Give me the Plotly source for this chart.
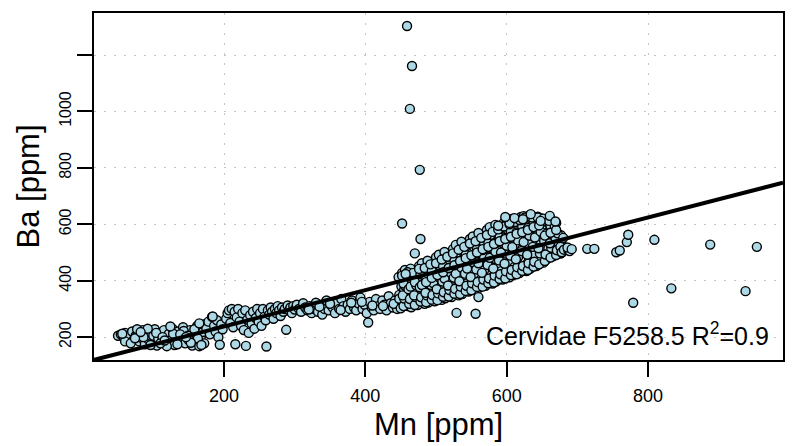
import plotly.graph_objects as go

# ---------------- data ----------------
mn_low = [50, 54, 58, 60, 63, 66, 70, 72, 75, 78, 80, 83, 85, 88, 90, 93, 95, 98, 100, 102,
          105, 107, 110, 112, 115, 118, 120, 122, 125, 127, 130, 132, 135, 137, 140, 142, 145, 147, 150, 152,
          155, 157, 160, 162, 165, 167, 170, 172, 60, 68, 77, 86, 96, 104, 113, 119, 128, 134,
          143, 149, 158, 163, 168, 110, 92, 124, 138, 153, 171, 56, 74, 82, 116, 146]
ba_low = [205, 210, 200, 215, 195, 208, 220, 190, 205, 212, 185, 198, 225, 175, 210, 192, 218, 180, 205, 228,
          170, 195, 215, 185, 225, 175, 200, 212, 190, 230, 172, 205, 220, 185, 198, 235, 178, 210, 190, 225,
          170, 205, 185, 240, 168, 200, 218, 178, 185, 178, 228, 200, 172, 215, 200, 168, 212, 175,
          222, 205, 228, 195, 172, 178, 230, 238, 210, 180, 245, 212, 196, 218, 188, 200]

mn_mid = [175, 178, 180, 183, 186, 188, 190, 192, 196, 198, 203, 205, 207, 209, 211, 213, 215, 218, 220, 222,
          224, 226, 228, 230, 233, 235, 237, 239, 241, 243, 245, 247, 249, 251, 253, 255, 257, 259, 262, 264,
          266, 268, 270, 272, 274, 276, 278, 280, 282, 284, 286, 290, 292, 294, 296, 298, 300]
ba_mid = [230, 255, 210, 272, 240, 220, 260, 200, 245, 228, 265, 285, 295, 250, 300, 235, 290, 270, 300, 255,
          240, 285, 225, 295, 262, 215, 278, 248, 290, 230, 268, 300, 255, 285, 240, 300, 272, 260, 295, 280,
          305, 290, 265, 300, 285, 310, 295, 275, 305, 290, 300, 312, 295, 305, 285, 310, 298]

mn_c = [303, 306, 309, 312, 315, 318, 321, 324, 327, 330, 333, 336, 339, 342, 345, 348, 351, 354, 357, 360,
        363, 366, 369, 372, 375, 378, 381, 384, 387, 390, 393, 396, 399, 402, 406, 409, 412, 415, 418, 421,
        424, 427, 430, 433, 436, 439, 442, 445, 448, 320, 350, 380, 410, 440, 335, 365, 395, 425]
ba_c = [315, 300, 290, 320, 305, 295, 310, 285, 300, 322, 290, 310, 280, 300, 330, 295, 315, 305, 285, 320,
        300, 335, 310, 290, 315, 300, 330, 305, 295, 320, 340, 300, 315, 285, 325, 305, 295, 335, 310, 300,
        330, 315, 295, 345, 320, 305, 330, 300, 350, 298, 318, 322, 312, 318, 308, 296, 325, 310]

mn_blob = [450, 453, 448, 454, 451, 447, 452,
           460, 457, 462, 455, 461, 458, 456,
           465, 468, 467, 463, 470, 468, 464,
           474, 477, 472, 478, 475, 471, 476,
           484, 481, 486, 479, 485, 482, 480,
           489, 492, 491, 487, 494, 492, 488,
           498, 501, 496, 502, 499, 495, 500,
           508, 505, 510, 503, 509, 506, 504,
           513, 516, 515, 511, 518, 516, 512,
           522, 525, 520, 526, 523, 519, 524,
           532, 529, 534, 527, 533, 530, 528,
           537, 540, 539, 535, 542, 540, 536,
           546, 549, 544, 550, 547, 543, 548,
           556, 553, 558, 551, 557, 554, 552,
           561, 564, 563, 559, 566, 564, 560,
           570, 573, 568, 574, 571, 567, 572,
           580, 577, 582, 575, 581, 578, 576,
           585, 588, 587, 583, 590, 588, 584,
           594, 597, 592, 598, 595, 591, 596,
           604, 601, 606, 599, 605, 602, 600,
           609, 612, 611, 607, 614, 612, 608,
           618, 621, 616, 622, 619, 615, 620,
           628, 625, 630, 623, 629, 626, 624,
           633, 636, 635, 631, 638, 636, 632,
           642, 645, 640, 646, 643, 639, 644,
           652, 649, 654, 647, 653, 650, 648,
           657, 660, 659, 655, 662, 660, 656,
           666, 669, 664, 670, 667, 663, 668,
           676, 673, 678, 671, 677, 674, 672]
ba_blob = [302, 325, 336, 371, 380, 413, 428,
           310, 322, 358, 369, 404, 416, 438,
           306, 331, 340, 368, 385, 420, 443,
           314, 330, 364, 376, 409, 425, 452,
           318, 337, 346, 383, 393, 431, 462,
           323, 351, 362, 394, 404, 452, 471,
           327, 343, 355, 401, 412, 447, 483,
           332, 348, 385, 395, 436, 451, 492,
           338, 357, 366, 416, 430, 474, 502,
           342, 359, 398, 411, 453, 475, 512,
           348, 367, 380, 432, 449, 500, 527,
           353, 369, 409, 428, 473, 497, 538,
           362, 379, 391, 449, 470, 522, 548,
           368, 382, 422, 444, 494, 518, 557,
           375, 392, 404, 467, 490, 542, 569,
           382, 394, 437, 461, 515, 539, 580,
           390, 406, 419, 483, 512, 563, 590,
           397, 408, 453, 478, 536, 560, 598,
           404, 420, 434, 501, 533, 584, 606,
           412, 422, 468, 496, 557, 581, 613,
           420, 435, 449, 519, 553, 603, 620,
           427, 436, 483, 513, 576, 598, 626,
           434, 449, 464, 536, 570, 618, 629,
           442, 451, 497, 530, 591, 612, 631,
           452, 474, 493, 552, 582, 627, 627,
           464, 474, 519, 545, 599, 613, 622,
           477, 498, 515, 565, 587, 621, 610,
           487, 493, 535, 555, 597, 604, 606,
           496, 514, 527, 562, 561, 546, 520]

mn_fill = [454, 455, 453, 456, 454, 452,
           462, 463, 461, 464, 462, 460,
           470, 471, 469, 472, 470, 468,
           478, 479, 477, 480, 478, 476,
           486, 487, 485, 488, 486, 484,
           494, 495, 493, 496, 494, 492,
           502, 503, 501, 504, 502, 500,
           510, 511, 509, 512, 510, 508,
           518, 519, 517, 520, 518, 516,
           526, 527, 525, 528, 526, 524,
           534, 535, 533, 536, 534, 532,
           542, 543, 541, 544, 542, 540,
           550, 551, 549, 552, 550, 548,
           558, 559, 557, 560, 558, 556,
           566, 567, 565, 568, 566, 564,
           574, 575, 573, 576, 574, 572,
           582, 583, 581, 584, 582, 580,
           590, 591, 589, 592, 590, 588,
           598, 599, 597, 600, 598, 596,
           606, 607, 605, 608, 606, 604,
           614, 615, 613, 616, 614, 612,
           622, 623, 621, 624, 622, 620,
           630, 631, 629, 632, 630, 628,
           638, 639, 637, 640, 638, 636,
           646, 647, 645, 648, 646, 644,
           654, 655, 653, 656, 654, 652,
           662, 663, 661, 664, 662, 660,
           670, 671, 669, 672, 670, 668,
           678, 679, 677, 680, 678, 676]
ba_fill = [310, 337, 348, 382, 390, 418,
           318, 335, 370, 379, 416, 430,
           314, 342, 348, 384, 395, 428,
           326, 341, 377, 385, 423, 442,
           324, 348, 357, 395, 405, 445,
           333, 349, 385, 392, 435, 458,
           331, 355, 370, 413, 422, 462,
           343, 359, 397, 408, 451, 475,
           344, 367, 383, 430, 445, 485,
           354, 371, 411, 425, 470, 497,
           353, 379, 398, 447, 467, 510,
           364, 382, 425, 443, 491, 520,
           366, 391, 413, 466, 489, 532,
           378, 395, 440, 462, 512, 540,
           379, 404, 428, 485, 509, 552,
           391, 408, 456, 481, 533, 562,
           394, 418, 443, 504, 531, 573,
           406, 423, 472, 500, 554, 582,
           408, 433, 460, 524, 552, 592,
           420, 438, 489, 519, 575, 600,
           423, 448, 476, 543, 571, 608,
           435, 452, 505, 537, 593, 615,
           438, 462, 492, 560, 587, 620,
           450, 467, 520, 553, 608, 624,
           458, 497, 515, 574, 598, 624,
           470, 493, 542, 566, 613, 620,
           482, 517, 533, 583, 595, 612,
           491, 508, 552, 568, 605, 590,
           500, 519, 521, 552, 503, 520]

mn_core = [486, 494, 502, 510, 518, 526, 534, 542, 550, 558, 566, 574, 582, 590, 598, 606, 614, 622,
           630, 638, 646, 654, 662, 670, 604, 618, 626, 611, 598, 588, 623, 634, 661, 648, 669,
           678, 681, 687, 689, 686, 692]
ba_core = [395, 410, 420, 430, 445, 455, 470, 480, 490, 500, 512, 520, 530, 540, 548, 556, 566, 572,
           580, 590, 596, 560, 570, 580, 605, 615, 624, 622, 626, 595, 618, 636, 630, 612, 610,
           501, 510, 509, 505, 518, 512]

mn_out = [452, 459, 466, 463, 477, 478, 470, 529, 556, 560, 457, 714, 724, 755, 760, 770, 772, 779,
          809, 833, 888, 938, 954, 194, 216, 231, 260, 288, 404, 165, 184]
ba_out = [603, 1303, 1161, 1009, 793, 548, 497, 286, 283, 342, 424, 513, 513, 501, 507, 537, 563, 322,
          545, 373, 528, 363, 520, 173, 175, 169, 167, 226, 252, 249, 273]

mn = mn_low + mn_mid + mn_c + mn_blob + mn_fill + mn_core + mn_out
ba = ba_low + ba_mid + ba_c + ba_blob + ba_fill + ba_core + ba_out

fit_intercept = 109.0
fit_slope = 0.644
label_text = "Cervidae F5258.5 R<sup>2</sup>=0.9"

x_range = [16, 991]
y_range = [119, 1349]
x_ticks = [200, 400, 600, 800]
y_ticks = [200, 400, 600, 800, 1000, 1200]
y_ticktext = ["200", "400", "600", "800", "1000", ""]

FONT = "Liberation Sans, Arial, Helvetica, sans-serif"

fig = go.Figure()
fig.add_trace(go.Scatter(
    x=mn, y=ba, mode="markers",
    marker=dict(size=9, color="#ADD8E6", line=dict(color="black", width=1.4)),
    showlegend=False, hoverinfo="skip"))
fig.add_trace(go.Scatter(
    x=x_range, y=[fit_intercept + fit_slope * v for v in x_range], mode="lines",
    line=dict(color="black", width=4), showlegend=False, hoverinfo="skip"))

axis_common = dict(
    showline=True, linecolor="black", linewidth=2, mirror=True,
    ticks="outside", ticklen=15, tickwidth=2, tickcolor="black",
    showgrid=True, gridcolor="#c4c4c4", gridwidth=1, griddash="2px,8px",
    zeroline=False,
)
fig.update_xaxes(range=x_range, tickvals=x_ticks, ticktext=[str(v) for v in x_ticks],
                 tickfont=dict(family=FONT, size=18, color="black"), ticklabelstandoff=3,
                 **axis_common)
fig.update_yaxes(range=y_range, tickvals=y_ticks, ticktext=y_ticktext, tickangle=-90,
                 tickfont=dict(family=FONT, size=16, color="black"), **axis_common)

pw, ph = 689, 349
fig.update_layout(
    width=801, height=446,
    margin=dict(l=94, r=18, t=11, b=86, pad=0),
    plot_bgcolor="white", paper_bgcolor="white",
    font=dict(family=FONT, color="black"),
    annotations=[
        dict(text="Mn [ppm]", xref="paper", yref="paper", x=0.5, y=-65 / ph,
             xanchor="center", yanchor="middle", showarrow=False,
             font=dict(family=FONT, size=31, color="black")),
        dict(text="Ba [ppm]", xref="paper", yref="paper", x=(28 - 94) / pw, y=0.5,
             xanchor="center", yanchor="middle", textangle=-90, showarrow=False,
             font=dict(family=FONT, size=31, color="black")),
        dict(text=label_text, xref="paper", yref="paper", x=(771 - 94) / pw, y=(360 - 334) / ph,
             xanchor="right", yanchor="middle", showarrow=False,
             font=dict(family=FONT, size=25, color="black")),
    ],
)

fig.write_html("out.html")
